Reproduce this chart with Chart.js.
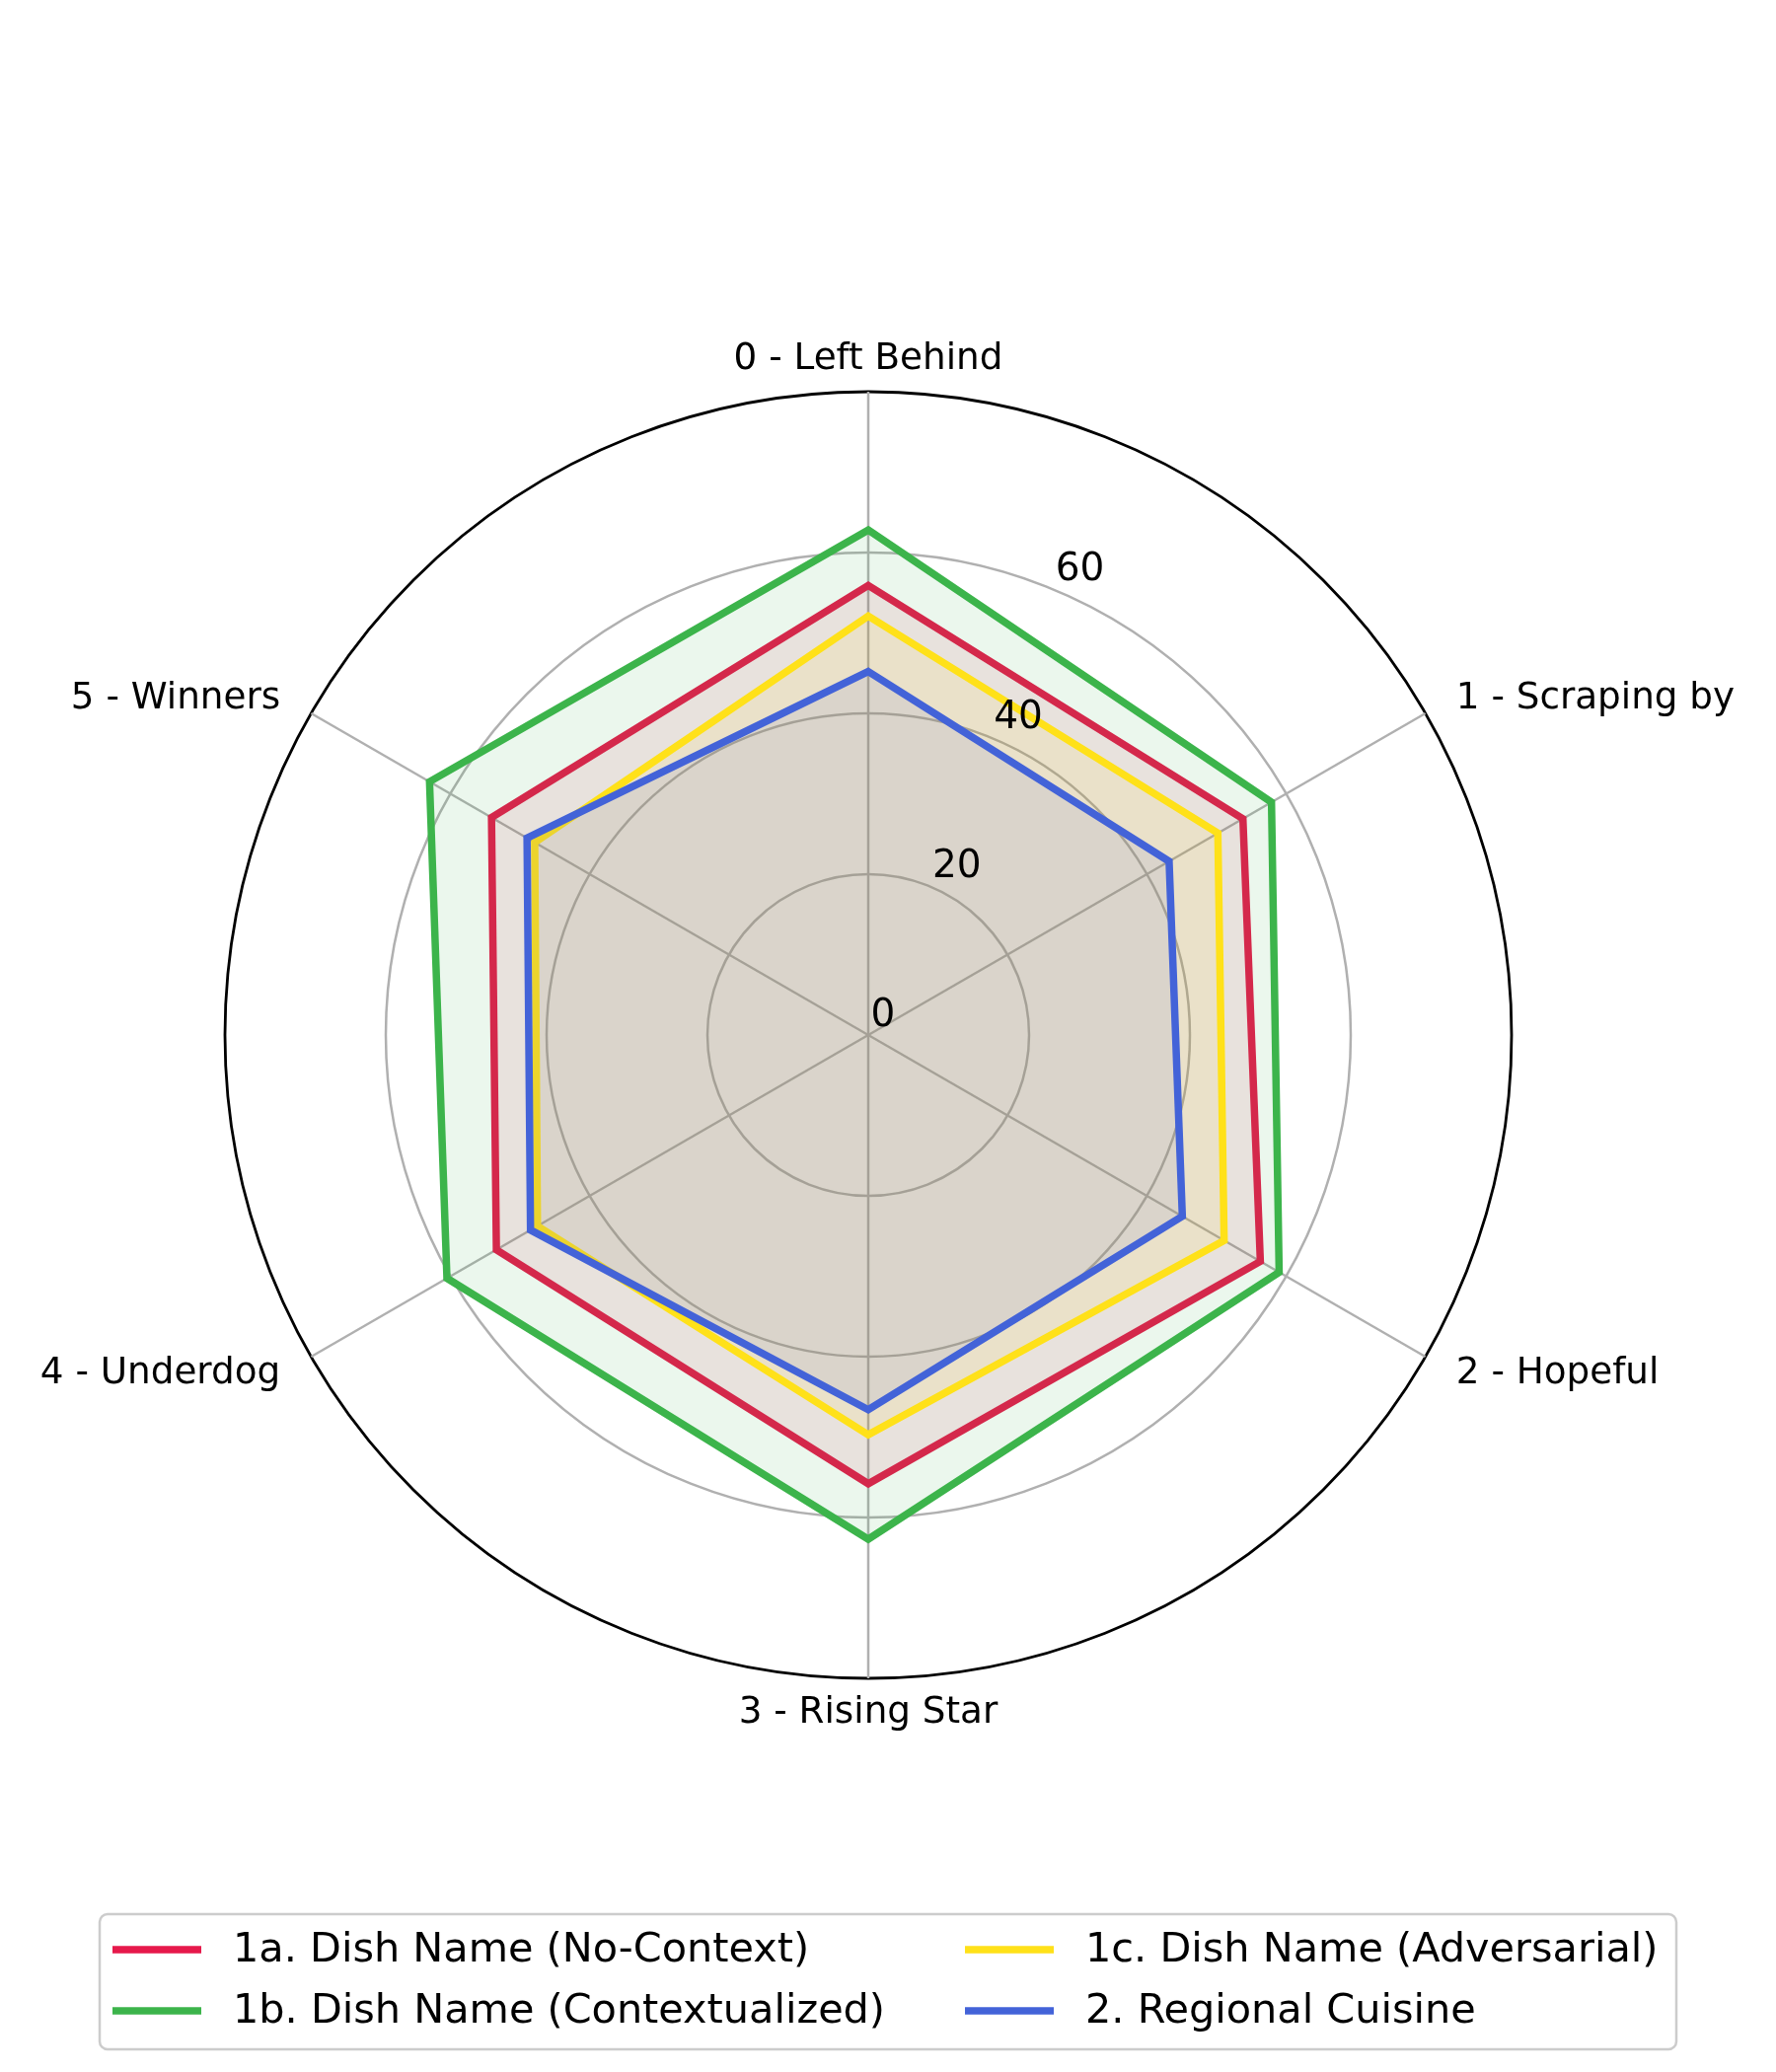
<!DOCTYPE html>
<html>
<head>
<meta charset="utf-8">
<script src="https://cdn.jsdelivr.net/npm/chart.js@4.4.1/dist/chart.umd.min.js"></script>
<style>
  html, body { margin: 0; padding: 0; background: #fff; }
</style>
</head>
<body>
<canvas id="radar" width="1800" height="2100"></canvas>
<script>
const categories = ['0 - Left Behind', '1 - Scraping by', '2 - Hopeful', '3 - Rising Star', '4 - Underdog', '5 - Winners']
const seriesNames = ['1a. Dish Name (No-Context)', '1b. Dish Name (Contextualized)', '1c. Dish Name (Adversarial)', '2. Regional Cuisine']
const noContext = [55.9, 53.8, 56.3, 55.8, 53.4, 54.1]
const contextualized = [62.8, 57.9, 59.0, 62.7, 60.5, 63.0]
const adversarial = [52.1, 50.2, 51.1, 49.7, 47.5, 47.9]
const regional = [45.2, 43.2, 45.1, 46.6, 48.5, 49.0]
const tickValues = [0, 20, 40, 60]

const colors = ['#e6194b', '#3cb44b', '#ffe119', '#4363d8']
const fills = ['rgba(230, 25, 75, 0.1)', 'rgba(60, 180, 75, 0.1)', 'rgba(255, 225, 25, 0.1)', 'rgba(67, 99, 216, 0.1)']
const values = [noContext, contextualized, adversarial, regional]
const FONT = '"DejaVu Sans", sans-serif'

// tick numbers sit at 22.5deg off the top axis, like matplotlib
const tickLabels = {
    id: 'tickLabels',
    afterDatasetsDraw(chart) {
        const scale = chart.scales.r
        const ctx = chart.ctx
        ctx.save()
        ctx.font = '39px ' + FONT
        ctx.fillStyle = '#000'
        ctx.textAlign = 'left'
        ctx.textBaseline = 'alphabetic'
        tickValues.forEach(v => {
            const p = scale.getPointPosition(0, scale.getDistanceFromCenterForValue(v), Math.PI / 8)
            ctx.fillText(String(v), p.x + 2.5, p.y - 9.5)
        })
        ctx.restore()
    }
}

const outerLabels = {
    id: 'outerLabels',
    afterDraw(chart) {
        const scale = chart.scales.r
        const ctx = chart.ctx
        ctx.save()
        ctx.font = '37.3px ' + FONT
        ctx.fillStyle = '#000'
        ctx.textBaseline = 'alphabetic'
        categories.forEach((label, i) => {
            const p = scale.getPointPosition(i, scale.drawingArea + 36)
            const dx = p.x - scale.xCenter
            ctx.textAlign = Math.abs(dx) < 1 ? 'center' : (dx > 0 ? 'left' : 'right')
            const shift = p.y > scale.yCenter ? 9 : 13
            ctx.fillText(label, p.x, p.y + shift)
        })
        ctx.restore()
    }
}

// two-column legend box at the bottom
const boxLegend = {
    id: 'boxLegend',
    afterDraw(chart) {
        const ctx = chart.ctx
        ctx.save()
        ctx.beginPath()
        ctx.roundRect(101, 1940, 1598, 137, 8)
        ctx.fillStyle = 'rgba(255,255,255,0.8)'
        ctx.fill()
        ctx.lineWidth = 2.5
        ctx.strokeStyle = '#cccccc'
        ctx.stroke()

        const cols = [114, 978]
        const rows = [1976, 2038]
        ctx.font = '41.4px ' + FONT
        ctx.textBaseline = 'middle'
        ctx.textAlign = 'left'
        chart.data.datasets.forEach((ds, i) => {
            const x = cols[Math.floor(i / 2)]
            const y = rows[i % 2]
            ctx.beginPath()
            ctx.moveTo(x, y)
            ctx.lineTo(x + 90, y)
            ctx.lineWidth = 7.5
            ctx.strokeStyle = ds.borderColor
            ctx.stroke()
            ctx.fillStyle = '#000'
            ctx.fillText(ds.label, x + 122, y + 1)
        })
        ctx.restore()
    }
}

new Chart(document.getElementById('radar'), {
    type: 'radar',
    data: {
        labels: categories,
        datasets: seriesNames.map((name, i) => ({
            label: name,
            data: values[i],
            borderColor: colors[i],
            backgroundColor: fills[i],
            borderWidth: 7.5,
            borderJoinStyle: 'miter',
            fill: true,
            pointRadius: 0,
            order: seriesNames.length - i
        }))
    },
    options: {
        responsive: false,
        devicePixelRatio: 1,
        animation: false,
        layout: {
            padding: { left: 228, right: 268, top: 397, bottom: 399 }
        },
        plugins: {
            legend: { display: false },
            tooltip: { enabled: false }
        },
        scales: {
            r: {
                min: 0,
                max: 80,
                ticks: { stepSize: 20, display: false },
                pointLabels: { display: false },
                grid: {
                    circular: true,
                    color: ctx => ctx.tick && ctx.tick.value === 80 ? '#000000' : '#b0b0b0',
                    lineWidth: ctx => ctx.tick && ctx.tick.value === 80 ? 2.8 : 2.5
                },
                angleLines: { color: '#b0b0b0', lineWidth: 2.5 }
            }
        }
    },
    plugins: [tickLabels, outerLabels, boxLegend]
})
</script>
</body>
</html>
